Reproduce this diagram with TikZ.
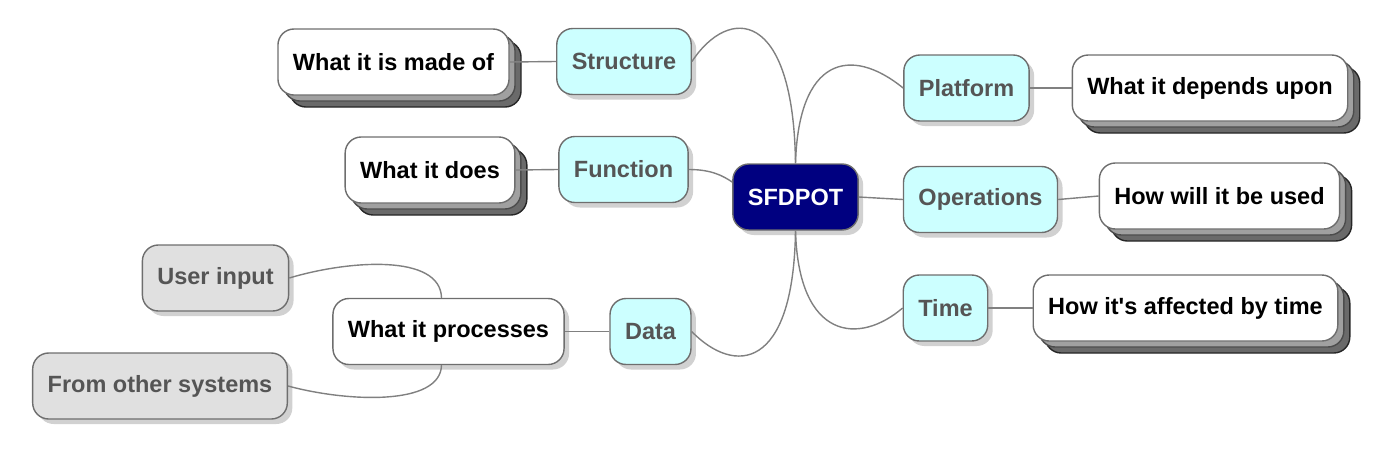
\documentclass[tikz,border=0pt]{standalone}
\usepackage{fontspec}
\setmainfont{Liberation Sans}
\usetikzlibrary{shadows,calc}
\definecolor{cyanfill}{HTML}{CCFFFF}
\definecolor{greyfill}{HTML}{E0E0E0}
\definecolor{boxborder}{HTML}{6E6E6E}
\definecolor{greytext}{HTML}{555555}
\definecolor{linkcol}{HTML}{808080}
\definecolor{navyfill}{HTML}{000080}
\definecolor{stackmid}{HTML}{A0A0A0}
\definecolor{stackback}{HTML}{6A6A6A}
\begin{document}
\begin{tikzpicture}[x=1pt,y=-1pt,
  basebox/.style={rounded corners=16pt, draw=boxborder, line width=1.4pt,
    minimum height=66pt, inner xsep=15pt, font=\fontsize{23.5}{27}\selectfont\bfseries},
  softshadow/.style={drop shadow={shadow xshift=5pt, shadow yshift=-5pt, opacity=0.18, fill=black}},
  rootbox/.style={basebox, fill=navyfill, text=white, softshadow},
  cyanbox/.style={basebox, fill=cyanfill, text=greytext, softshadow},
  greybox/.style={basebox, fill=greyfill, text=greytext, softshadow},
  whitebox/.style={basebox, fill=white, text=black, softshadow},
  leafbox/.style={basebox, fill=white, text=black,
    copy shadow={shadow xshift=12pt, shadow yshift=-12pt, fill=stackback, draw=black!85, line width=1.4pt},
    copy shadow={shadow xshift=6pt, shadow yshift=-6pt, fill=stackmid, draw=black!70, line width=1.4pt}},
  link/.style={draw=linkcol, line width=1.4pt}]
\useasboundingbox (0,0) rectangle (1384,450);

% nodes
\node[rootbox] (sfd) at (795.5,197) {SFDPOT};
\node[cyanbox] (str) at (624,61.5) {Structure};
\node[cyanbox] (fun) at (623.5,169.5) {Function};
\node[cyanbox] (dat) at (650.5,331.5) {Data};
\node[cyanbox] (plat) at (966.5,88) {Platform};
\node[cyanbox] (ops) at (980.5,199.5) {Operations};
\node[cyanbox] (tim) at (945.5,308) {Time};

\node[leafbox] (made) at (393.5,62) {What it is made of};
\node[leafbox] (does) at (430,170) {What it does};
\node[leafbox] (dep) at (1210,88) {What it depends upon};
\node[leafbox] (used) at (1219.5,196) {How will it be used};
\node[leafbox] (aff) at (1185.5,308) {How it\textquotesingle s affected by time};

\node[whitebox] (proc) at (448.5,331.5) {What it processes};
\node[greybox] (ui) at (215.5,278) {User input};
\node[greybox] (oth) at (160,386) {From other systems};

% connectors
\draw[link] (sfd.north) .. controls +(-2,-155) and +(37,-56) .. (str.east);
\draw[link] (sfd.north) .. controls +(3,-105) and +(-53,-43) .. (plat.west);
\draw[link] (sfd.south) .. controls +(-2,140) and +(43,44) .. (dat.east);
\draw[link] (sfd.south) .. controls +(3,110) and +(-43,37) .. (tim.west);
\draw[link] (fun.east) .. controls +(23,0) and +(-9,-6) .. ([yshift=15pt]sfd.west);
\draw[link] (sfd.east) -- (ops.west);

\draw[link] (made.east) -- (str.west);
\draw[link] (does.east) -- (fun.west);
\draw[link] (proc.east) -- (dat.west);
\draw[link] (plat.east) -- (dep.west);
\draw[link] (ops.east) -- (used.west);
\draw[link] (tim.east) -- (aff.west);

\draw[link] (ui.east) .. controls +(60,-18) and +(-1,-44) .. ([xshift=-7pt]proc.north);
\draw[link] (oth.east) .. controls +(59,16) and +(-1,41) .. ([xshift=-7pt]proc.south);
\end{tikzpicture}
\end{document}
